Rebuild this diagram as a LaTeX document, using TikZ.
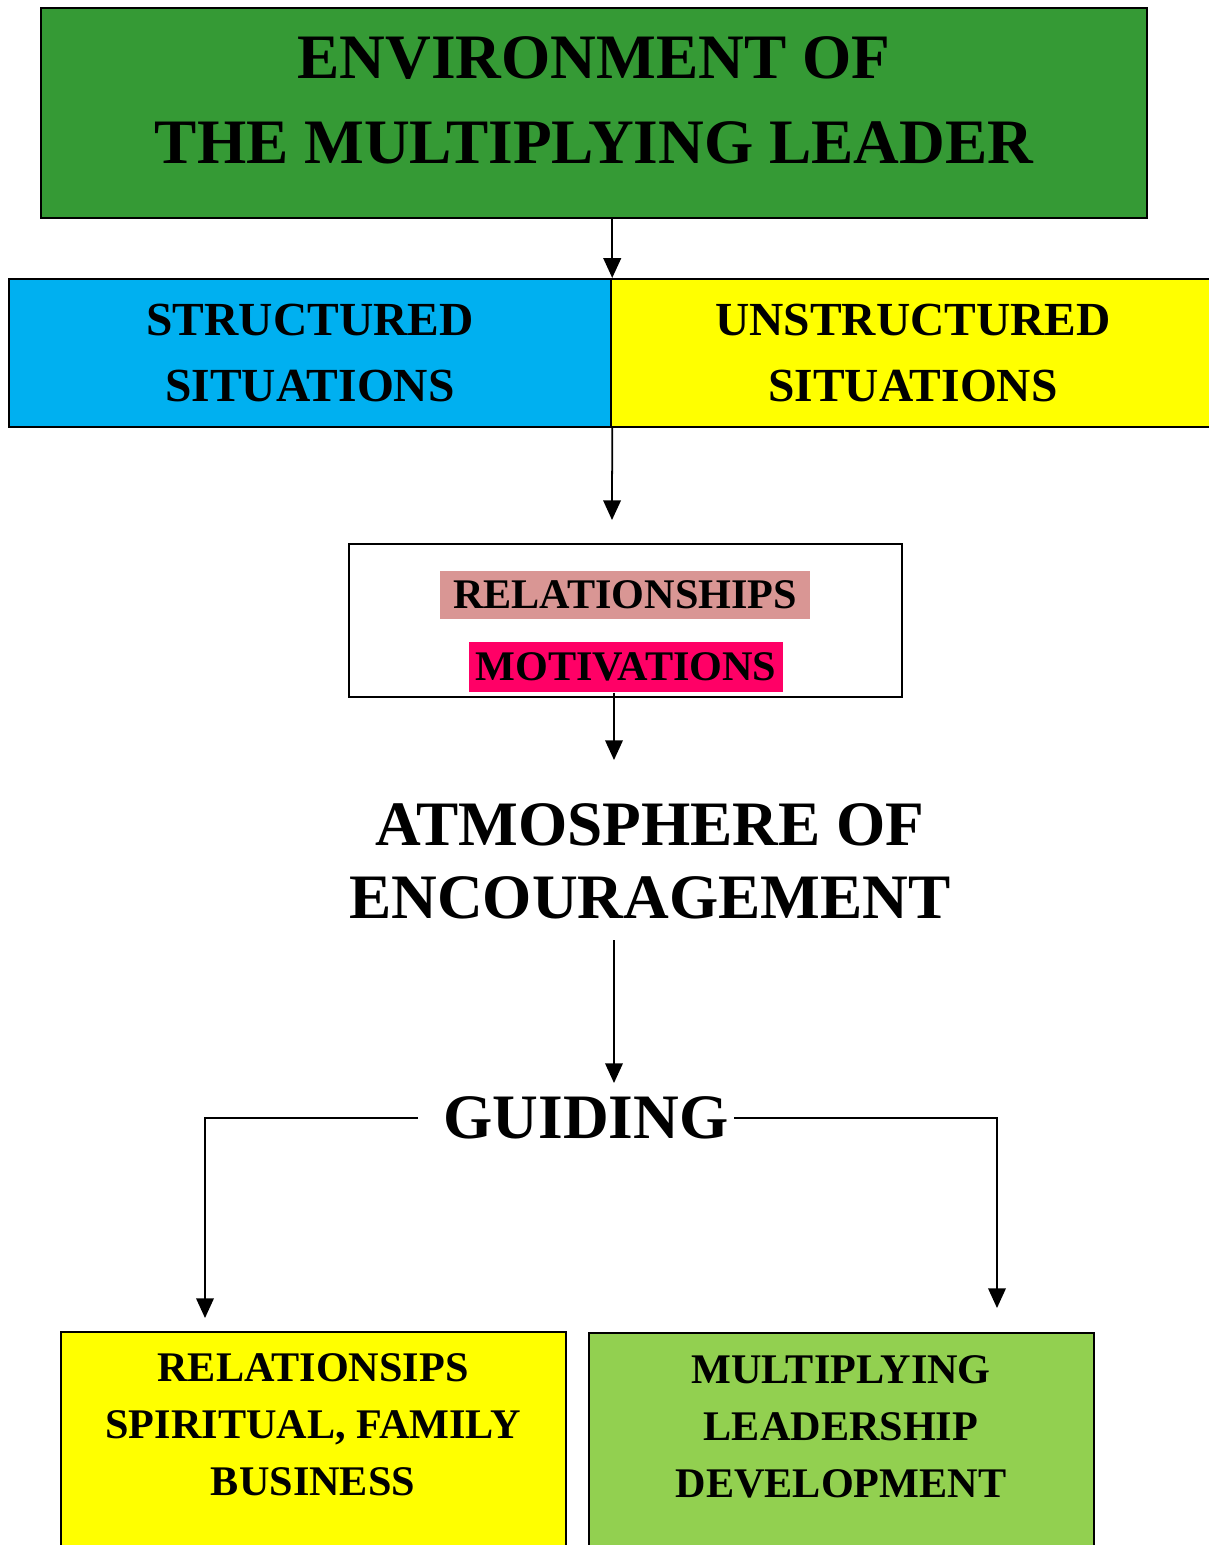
\documentclass[tikz,border=0pt]{standalone}
\usepackage{fontspec}
\setmainfont{Liberation Serif}
\usepackage{xcolor}
\usepackage{tikz}
\usetikzlibrary{positioning, arrows.meta}

\definecolor{envgreen}{RGB}{53,154,53}
\definecolor{skyblue}{RGB}{0,176,240}
\definecolor{brightyellow}{RGB}{255,255,0}
\definecolor{rosepink}{RGB}{217,150,148}
\definecolor{hotpink}{RGB}{255,0,102}
\definecolor{leafgreen}{RGB}{146,208,80}

\tikzset{
  box/.style={draw, line width=0.6pt, inner sep=0pt},
  arr/.style={-{Triangle[length=5.6pt,width=5pt]}, line width=0.5pt},
  bigtxt/.style={font=\fontsize{18}{24.2}\selectfont\bfseries, align=center},
  midtxt/.style={font=\fontsize{13.5}{18.5}\selectfont\bfseries, align=center},
  smalltxt/.style={font=\fontsize{12}{16.2}\selectfont\bfseries, align=center},
}

\begin{document}
\begin{tikzpicture}[x=0.01cm, y=-0.01cm]
\useasboundingbox (0,0) rectangle (1209,1545);

% Caixa do ambiente
\node[box, fill=envgreen, minimum width=110.6mm, minimum height=21mm] (env) at (594,113) {};
\node[bigtxt, font=\fontsize{18}{24.2}\selectfont\bfseries] (envtxt) at (594,100) {ENVIRONMENT OF\\THE MULTIPLYING LEADER};

% Situacoes
\node[box, fill=skyblue, minimum width=60.2mm, minimum height=14.8mm, midtxt] (struct) at (310,353) {STRUCTURED\\SITUATIONS};
\node[box, fill=brightyellow, minimum width=60.4mm, minimum height=14.8mm, midtxt] (unstruct) at (913,353) {UNSTRUCTURED\\SITUATIONS};

% Relacoes e motivacoes
\node[box, minimum width=55.3mm, minimum height=15.3mm] (rel) at (625.5,620.5) {};
\node[smalltxt, fill=rosepink, inner sep=0pt, minimum width=37mm, minimum height=4.8mm] (relA) at (625,595) {RELATIONSHIPS};
\node[smalltxt, fill=hotpink, inner sep=0pt, minimum width=31.4mm, minimum height=5mm] (mot) at (626,667) {MOTIVATIONS};

% Atmosfera e guia
\node[bigtxt, font=\fontsize{18}{20.8}\selectfont\bfseries] (atm) at (650,861) {ATMOSPHERE OF\\ENCOURAGEMENT};
\node[bigtxt, inner xsep=1.5pt] (guid) at (586,1118) {GUIDING};

% Caixas finais
\node[box, fill=brightyellow, minimum width=50.5mm, minimum height=26mm] (spir) at (313.5,1462) {};
\node[smalltxt] (spirtxt) at (313,1425) {RELATIONSIPS\\SPIRITUAL, FAMILY\\BUSINESS};
\node[box, fill=leafgreen, minimum width=50.5mm, minimum height=26mm] (lead) at (841.5,1463) {};
\node[smalltxt] (leadtxt) at (841,1427) {MULTIPLYING\\LEADERSHIP\\DEVELOPMENT};

% Pontas livres
\coordinate (c2) at (612,520);
\coordinate (c3) at (614,760);
\coordinate (c4s) at (614,940);
\coordinate (c4) at (614,1083);
\coordinate (gl) at (205,1318);
\coordinate (gr) at (997,1308);

% Setas
\draw[arr] (struct.north east |- env.south) -- (struct.north east);
\draw[arr] (struct.south east) -- (c2);
\draw[arr] (mot.south -| c3) -- (c3);
\draw[arr] (c4s) -- (c4);
\draw[arr] ([xshift=-5.5pt]guid.west) -| (gl);
\draw[arr] (guid.east) -| (gr);

\end{tikzpicture}
\end{document}
